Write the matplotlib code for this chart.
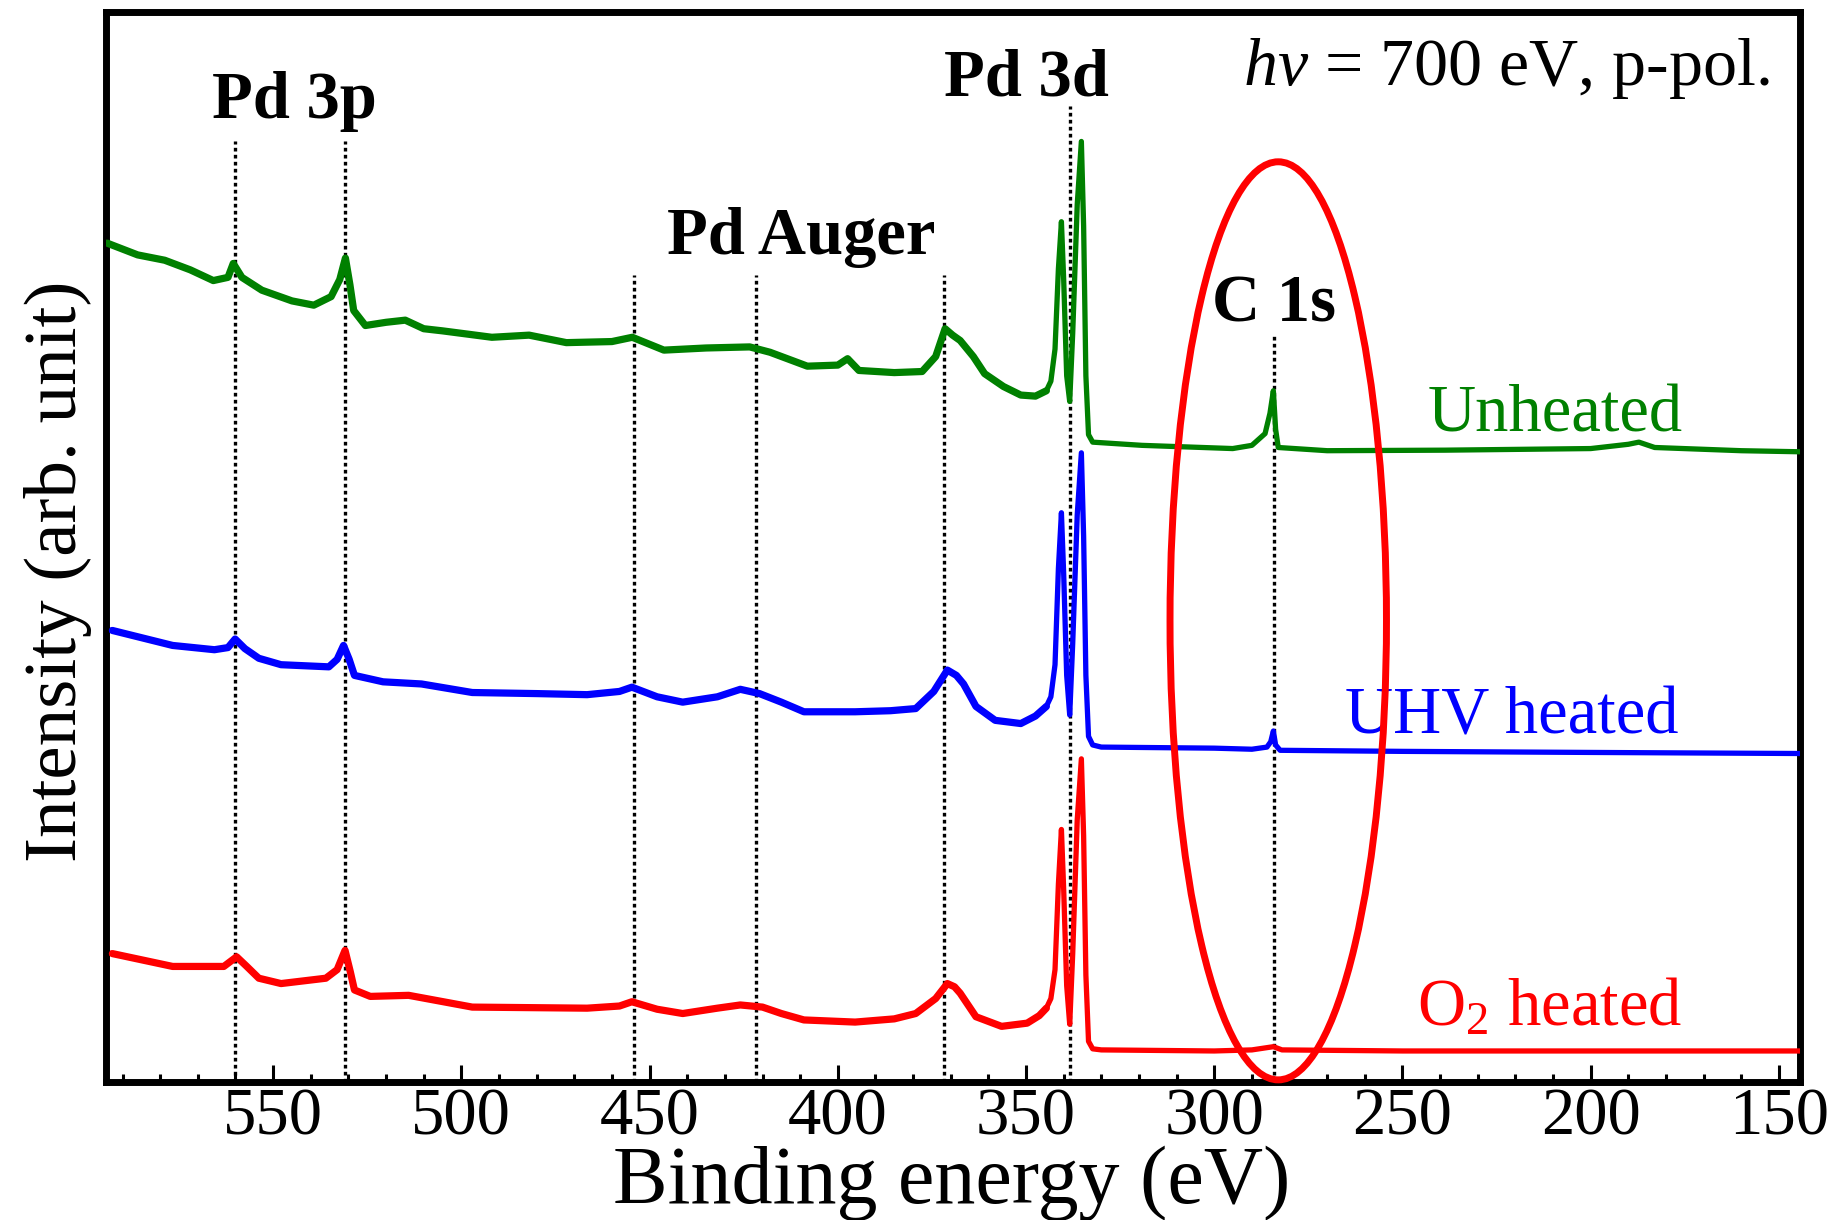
import matplotlib
matplotlib.use("Agg")
import matplotlib.pyplot as plt
from matplotlib.patches import Ellipse
from matplotlib.ticker import MultipleLocator

plt.rcParams['font.family'] = ['Liberation Serif', 'DejaVu Serif']
plt.rcParams['mathtext.fontset'] = 'custom'
plt.rcParams['mathtext.rm'] = 'Liberation Serif'
plt.rcParams['mathtext.it'] = 'Liberation Serif:italic'
plt.rcParams['mathtext.bf'] = 'Liberation Serif:bold'

# ---------------- data (binding energy in eV, intensity in arb. units) ----------------
unheated_energy = [594.1, 586.0, 578.8, 572.0, 565.9, 562.0, 560.6, 558.3, 553.0, 545.0,
                   539.2, 534.6, 532.3, 530.8, 529.6, 528.6, 525.5, 520.0, 514.9, 510.0,
                   505.0, 491.9, 482.0, 472.1, 460.0, 454.6, 446.2, 435.0, 423.4, 418.0,
                   408.1, 400.0, 397.4, 394.4, 385.0, 377.6, 374.0, 371.5, 369.5, 367.5,
                   364.0, 361.0, 356.0, 351.4, 347.5, 344.6, 343.4, 342.3, 341.4, 340.6,
                   340.0, 339.2, 338.4, 337.6, 336.4, 335.3, 334.7, 334.1, 333.4, 332.3,
                   319.2, 295.1, 290.0, 286.5, 285.2, 284.3, 283.7, 283.0, 270.0, 238.7,
                   200.0, 190.0, 187.2, 183.0, 160.0, 144.4]
unheated_intensity = [78.4, 77.3, 76.8, 75.9, 74.9, 75.2, 76.5, 75.2, 74.0, 73.0,
                      72.6, 73.4, 75.0, 77.0, 74.5, 72.1, 70.7, 71.0, 71.2, 70.4,
                      70.2, 69.6, 69.8, 69.1, 69.2, 69.6, 68.4, 68.6, 68.7, 68.2,
                      66.9, 67.0, 67.6, 66.5, 66.3, 66.4, 67.8, 70.4, 69.8, 69.3,
                      67.8, 66.2, 65.0, 64.2, 64.1, 64.6, 65.5, 68.5, 76.0, 80.4,
                      75.0, 66.0, 63.6, 70.0, 82.0, 87.9, 80.0, 66.0, 60.5, 59.8,
                      59.5, 59.2, 59.5, 60.6, 62.5, 64.6, 61.0, 59.3, 59.0, 59.05,
                      59.2, 59.6, 59.8, 59.3, 59.0, 58.9]

uhv_energy = [592.7, 576.7, 565.6, 562.0, 560.1, 557.5, 553.8, 547.9, 535.2, 533.0,
              531.3, 529.8, 528.4, 520.8, 510.6, 497.1, 480.0, 466.6, 458.0, 454.7,
              448.0, 441.2, 432.0, 425.9, 420.8, 415.0, 409.0, 395.4, 386.0, 379.3,
              374.5, 370.9, 368.5, 366.6, 363.3, 358.2, 351.4, 347.5, 344.6, 343.4,
              342.3, 341.4, 340.6, 340.0, 339.2, 338.4, 337.6, 336.4, 335.3, 334.7,
              334.1, 333.4, 332.3, 330.0, 300.0, 290.0, 286.0, 285.0, 284.3, 283.7,
              282.5, 250.0, 200.0, 144.4]
uhv_intensity = [42.2, 40.8, 40.4, 40.6, 41.4, 40.5, 39.6, 39.0, 38.8, 39.5,
                 40.8, 39.5, 38.0, 37.4, 37.2, 36.4, 36.3, 36.2, 36.5, 36.9,
                 36.0, 35.5, 36.0, 36.7, 36.3, 35.5, 34.6, 34.6, 34.7, 34.9,
                 36.5, 38.5, 38.0, 37.2, 35.1, 33.8, 33.5, 34.2, 35.1, 36.0,
                 39.0, 48.0, 53.2, 47.5, 38.0, 34.3, 41.0, 53.0, 58.8, 51.0,
                 38.0, 32.3, 31.5, 31.3, 31.2, 31.1, 31.3, 31.8, 32.8, 31.5,
                 31.0, 30.9, 30.8, 30.7]

o2_energy = [592.7, 576.7, 563.1, 559.7, 557.0, 553.8, 547.9, 536.0, 533.0, 530.9,
             529.5, 528.4, 524.2, 514.0, 497.1, 466.6, 458.0, 454.7, 448.0, 441.2,
             432.0, 425.9, 420.0, 415.0, 409.0, 395.4, 385.0, 379.3, 374.0, 370.9,
             369.0, 367.5, 363.3, 356.5, 349.7, 346.5, 344.6, 343.4, 342.3, 341.4,
             340.6, 340.0, 339.2, 338.4, 337.6, 336.4, 335.3, 334.7, 334.1, 333.4,
             332.3, 330.0, 300.0, 290.0, 284.3, 282.0, 250.0, 200.0, 144.4]
o2_intensity = [12.0, 10.8, 10.8, 11.7, 10.8, 9.7, 9.2, 9.7, 10.5, 12.3,
                10.3, 8.6, 8.0, 8.1, 7.0, 6.9, 7.1, 7.5, 6.8, 6.4,
                6.9, 7.2, 7.0, 6.4, 5.8, 5.6, 5.9, 6.4, 7.8, 9.2,
                8.9, 8.3, 6.1, 5.2, 5.5, 6.2, 6.9, 7.8, 10.5, 18.5,
                23.6, 18.0, 9.0, 5.4, 12.0, 24.5, 30.2, 23.0, 10.0, 3.8,
                3.1, 3.0, 2.9, 3.0, 3.3, 3.0, 2.9, 2.9, 2.9]

series_names = ["Unheated", "UHV heated", "O$_2$ heated"]
series_colors = ["#008000", "#0000ff", "#ff0000"]

peak_positions = [560.0, 530.9, 454.2, 421.6, 371.9, 338.3, 284.2]
peak_line_tops = [87.9, 87.9, 75.4, 75.4, 75.4, 91.2, 69.9]

peak_labels = ["Pd 3p", "Pd Auger", "Pd 3d", "C 1s"]
peak_label_x = [544.3, 409.7, 350.0, 284.2]
peak_label_y = [90.1, 77.4, 92.2, 71.1]

label_x = [175.6, 176.6, 175.6]
label_y = [60.8, 32.6, 5.3]

xticks = [550, 500, 450, 400, 350, 300, 250, 200, 150]

# ---------------- figure ----------------
fig = plt.figure(figsize=(18.48, 12.2), dpi=100)
ax = fig.add_axes([106/1848, 1 - 1082/1220, (1800-106)/1848, (1082-12)/1220])

for e, y, c in zip([unheated_energy, uhv_energy, o2_energy],
                   [unheated_intensity, uhv_intensity, o2_intensity], series_colors):
    ax.plot(e, y, color=c, lw=3.8, solid_joinstyle='round', zorder=3)
    # noisier high-energy part drawn as a wider band, as in the original
    noisy = [(ei, yi) for ei, yi in zip(e, y) if ei >= 344.5]
    ax.plot([p[0] for p in noisy], [p[1] for p in noisy], color=c, lw=5.2,
            solid_joinstyle='round', solid_capstyle='round', zorder=3)

ax.vlines(peak_positions, 0, peak_line_tops, colors='black', lw=2.4,
          linestyles=[(0, (1.1, 1.0))], zorder=2)

for t, x, y in zip(peak_labels, peak_label_x, peak_label_y):
    ax.text(x, y, t, ha='center', va='baseline', fontsize=48, fontweight='bold')

for t, x, y, c in zip(series_names, label_x, label_y, series_colors):
    ax.text(x, y, t, ha='right', va='baseline', fontsize=48, color=c)

ax.text(152.5, 93.2, r"$hv$ = 700 eV, p-pol.", ha='right', va='baseline', fontsize=49)

ell = Ellipse((283.0, 43.1), width=57.5, height=85.8, fill=False,
              edgecolor='#ff0000', lw=5, zorder=5, clip_on=False)
ax.add_patch(ell)

ax.set_xlim(594.4, 144.4)
ax.set_ylim(0, 100)
ax.set_xticks(xticks)
ax.xaxis.set_minor_locator(MultipleLocator(10))
ax.set_yticks([])
ax.tick_params(axis='x', which='major', direction='in', length=12, width=2.2,
               labelsize=48, pad=4, top=False)
ax.tick_params(axis='x', which='minor', direction='in', length=6, width=2.2, top=False)
for s in ax.spines.values():
    s.set_linewidth(5)

fig.text(952/1848, 1 - 1203/1220, "Binding energy (eV)", ha='center', va='baseline',
         fontsize=59)
fig.text(76/1848, 1 - 571.5/1220, "Intensity (arb. unit)", rotation=90,
         rotation_mode='anchor', ha='center', va='baseline', fontsize=54)

fig.savefig("out.png", dpi=100)
